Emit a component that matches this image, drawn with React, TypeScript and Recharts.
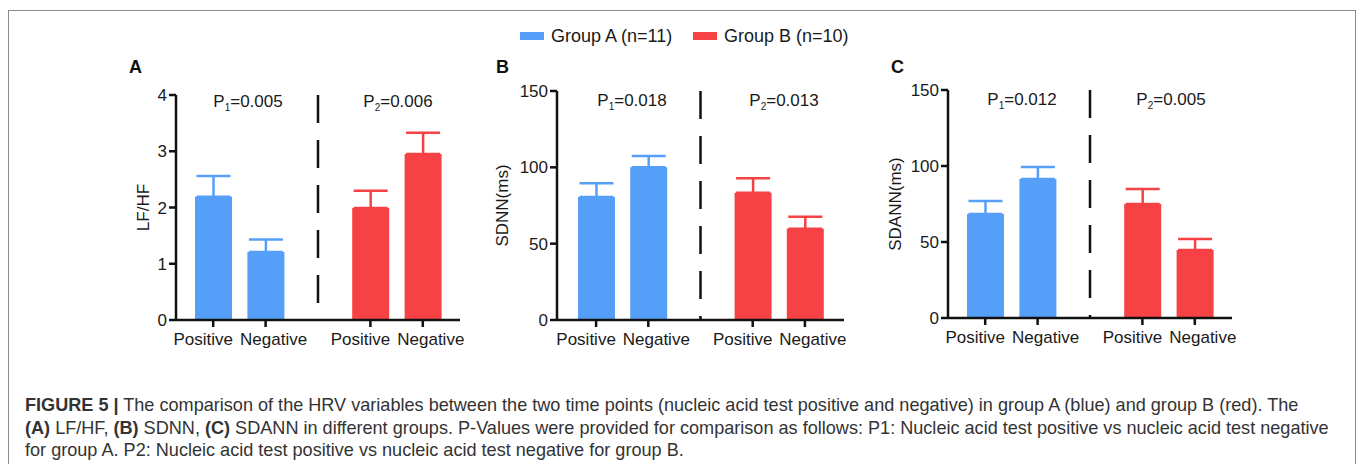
import React from "react";
import { BarChart, Bar, XAxis, YAxis, ErrorBar, Cell, ReferenceLine } from "recharts";

// slot order on every x axis; "gap" is the empty slot holding the dashed divider
const slotKeys = ["posA", "negA", "gap", "posB", "negB"];
const slotLabels = ["Positive", "Negative", "", "Positive", "Negative"];
const slotGroup = ["A", "A", null, "B", "B"];
const slotValueIndex = [0, 1, -1, 2, 3];

// values: [A positive, A negative, B positive, B negative]
const lfhfMean = [2.19, 1.21, 1.99, 2.95];
const lfhfSem = [0.37, 0.22, 0.31, 0.38];
const sdnnMean = [80.5, 100.1, 83.4, 59.7];
const sdnnSem = [9.1, 7.3, 9.4, 7.9];
const sdannMean = [68.4, 91.4, 75.0, 44.7];
const sdannSem = [8.6, 7.9, 9.9, 7.3];

const lfhfTicks = [0, 1, 2, 3, 4];
const msTicks = [0, 50, 100, 150];

const lfhfP = ["0.005", "0.006"];
const sdnnP = ["0.018", "0.013"];
const sdannP = ["0.012", "0.005"];

const groupNames = ["Group A (n=11)", "Group B (n=10)"];

const BLUE = "#569ff8";
const RED = "#f64244";
const AXIS = "#111";
const FONT = "'Liberation Sans', Arial, Helvetica, sans-serif";
const DASH = 28;
const GAP = 17;

const buildRows = (mean: number[], sem: number[]) =>
  slotKeys.map((slot, i) => {
    const vi = slotValueIndex[i];
    const g = slotGroup[i];
    return {
      slot,
      mean: vi >= 0 ? mean[vi] : null,
      errA: g === "A" ? [0, sem[vi]] : undefined,
      errB: g === "B" ? [0, sem[vi]] : undefined,
    };
  });

// labels sit slightly apart from their tick, like the original
const XTick = (props: any) => {
  const { x, y, payload } = props;
  const label = slotLabels[slotKeys.indexOf(payload.value)];
  const dx = label === "Positive" ? -10 : 8;
  return (
    <text x={x + dx} y={y} dy="0.71em" textAnchor="middle" fontSize={17} fill="#1a1a1a">
      {label}
    </text>
  );
};

interface PanelProps {
  left: number;
  top: number;
  plotW: number;
  plotH: number;
  pad: number;
  mean: number[];
  sem: number[];
  ticks: number[];
  yLabel: string;
  labelOffset: number;
}

const Panel = ({ left, top, plotW, plotH, pad, mean, sem, ticks, yLabel, labelOffset }: PanelProps) => {
  const rows = buildRows(mean, sem);
  const yw = 70;
  const period = DASH + GAP;
  // the line is drawn bottom-up; shift the pattern so it starts with a dash at the top
  const dashOffset = (((-plotH - GAP) % period) + period) % period;
  return (
    <div style={{ position: "absolute", left, top }}>
      <BarChart
        width={yw + plotW + 10}
        height={10 + plotH + 40}
        data={rows}
        margin={{ top: 10, right: 10, left: 0, bottom: 0 }}
        style={{ fontFamily: FONT }}
      >
        <XAxis
          dataKey="slot"
          ticks={["posA", "negA", "posB", "negB"]}
          padding={{ left: pad, right: pad }}
          height={40}
          tickSize={7}
          tickMargin={6}
          axisLine={{ stroke: AXIS, strokeWidth: 2.5 }}
          tickLine={{ stroke: AXIS, strokeWidth: 2.5 }}
          tick={<XTick />}
          interval={0}
        />
        <YAxis
          width={yw}
          domain={[ticks[0], ticks[ticks.length - 1]]}
          ticks={ticks}
          tickSize={7}
          tickMargin={2}
          axisLine={{ stroke: AXIS, strokeWidth: 2.5 }}
          tickLine={{ stroke: AXIS, strokeWidth: 2.5 }}
          tick={{ fill: "#1a1a1a", fontSize: 17 }}
          label={{
            value: yLabel,
            angle: -90,
            position: "insideLeft",
            offset: labelOffset,
            style: { textAnchor: "middle", fill: "#1a1a1a", fontSize: 17 },
          }}
        />
        <ReferenceLine
          x="gap"
          stroke={AXIS}
          strokeWidth={2.5}
          strokeDasharray={`${DASH} ${GAP}`}
          strokeDashoffset={dashOffset}
        />
        <Bar dataKey="mean" barSize={37} isAnimationActive={false}>
          {rows.map((r, i) => (
            <Cell key={r.slot} fill={slotGroup[i] === "A" ? BLUE : RED} />
          ))}
          <ErrorBar dataKey="errA" width={17} stroke={BLUE} strokeWidth={2.5} />
          <ErrorBar dataKey="errB" width={17} stroke={RED} strokeWidth={2.5} />
        </Bar>
      </BarChart>
    </div>
  );
};

const PLabel = ({ x, y, idx, value }: { x: number; y: number; idx: number; value: string }) => (
  <div
    style={{
      position: "absolute",
      left: x,
      top: y - 9,
      transform: "translateX(-50%)",
      fontSize: 17,
      lineHeight: "17px",
      whiteSpace: "nowrap",
      color: "#1a1a1a",
    }}
  >
    P<span style={{ fontSize: 10, position: "relative", top: 4 }}>{idx}</span>={value}
  </div>
);

const Letter = ({ x, y, t }: { x: number; y: number; t: string }) => (
  <div style={{ position: "absolute", left: x, top: y - 9, fontSize: 18, lineHeight: "18px", fontWeight: 700, color: "#111" }}>
    {t}
  </div>
);

const App = () => {
  return (
    <div
      style={{
        position: "absolute",
        left: 0,
        top: 0,
        width: 1358,
        height: 464,
        overflow: "hidden",
        background: "#fff",
        fontFamily: FONT,
      }}
    >
      <div
        style={{
          position: "absolute",
          left: 8,
          top: 10,
          width: 1346,
          height: 470,
          border: "1px solid #8a8a8a",
        }}
      />

      {/* legend */}
      {groupNames.map((name, i) => (
        <div
          key={name}
          style={{
            position: "absolute",
            left: i === 0 ? 520 : 693,
            top: 26,
            display: "flex",
            alignItems: "center",
            fontSize: 18,
            lineHeight: "20px",
            color: "#1a1a1a",
            whiteSpace: "nowrap",
          }}
        >
          <span style={{ display: "inline-block", width: 24, height: 8, background: i === 0 ? BLUE : RED, marginRight: 7 }} />
          {name}
        </div>
      ))}

      <Letter x={129} y={67} t="A" />
      <Letter x={496} y={67} t="B" />
      <Letter x={891} y={67} t="C" />

      <Panel left={106} top={85} plotW={284} plotH={225} pad={11} mean={lfhfMean} sem={lfhfSem} ticks={lfhfTicks} yLabel="LF/HF" labelOffset={37} />
      <Panel left={487} top={81} plotW={287} plotH={229} pad={13} mean={sdnnMean} sem={sdnnSem} ticks={msTicks} yLabel="SDNN(ms)" labelOffset={15} />
      <Panel left={878} top={80} plotW={284} plotH={228} pad={11} mean={sdannMean} sem={sdannSem} ticks={msTicks} yLabel="SDANN(ms)" labelOffset={17} />

      <PLabel x={248} y={102} idx={1} value={lfhfP[0]} />
      <PLabel x={398} y={102} idx={2} value={lfhfP[1]} />
      <PLabel x={632} y={101} idx={1} value={sdnnP[0]} />
      <PLabel x={784} y={101} idx={2} value={sdnnP[1]} />
      <PLabel x={1022} y={100} idx={1} value={sdannP[0]} />
      <PLabel x={1171} y={100} idx={2} value={sdannP[1]} />

      <div
        style={{
          position: "absolute",
          left: 25,
          top: 394,
          fontSize: 18.1,
          lineHeight: "22.5px",
          color: "#333",
          whiteSpace: "nowrap",
        }}
      >
        <div>
          <b>FIGURE 5 |</b> The comparison of the HRV variables between the two time points (nucleic acid test positive and negative) in group A (blue) and group B (red). The
        </div>
        <div>
          <b>(A)</b> LF/HF, <b>(B)</b> SDNN, <b>(C)</b> SDANN in different groups. P-Values were provided for comparison as follows: P1: Nucleic acid test positive vs nucleic acid test negative
        </div>
        <div>for group A. P2: Nucleic acid test positive vs nucleic acid test negative for group B.</div>
      </div>
    </div>
  );
};

export default App;
